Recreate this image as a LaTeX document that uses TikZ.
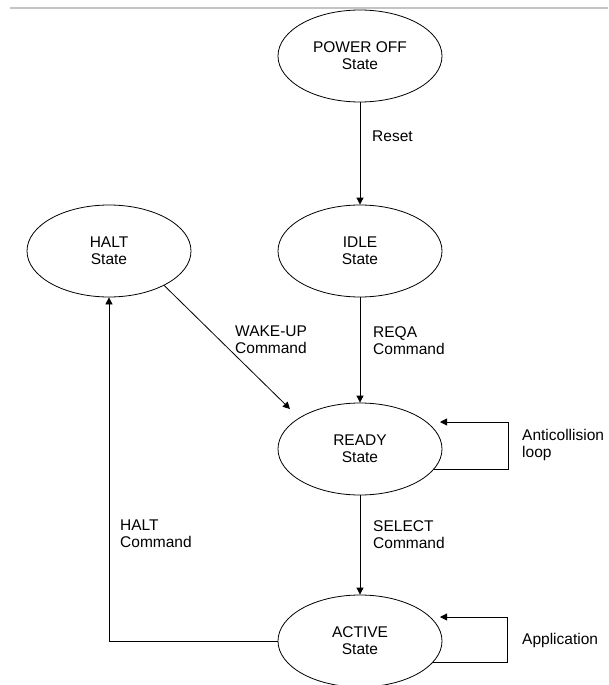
\documentclass[tikz,border=0pt]{standalone}
\usepackage{fontspec}
\setmainfont{Liberation Sans}
\usetikzlibrary{shapes.geometric,arrows.meta}
\begin{document}
\begin{tikzpicture}[x=1pt,y=-1pt,
  txt/.style={font=\fontsize{15.5}{17}\selectfont},
  state/.style={ellipse,draw,line width=0.8pt,minimum width=164pt,minimum height=92pt,
                inner sep=0pt,align=center,txt},
  lbl/.style={anchor=north west,inner sep=0pt,align=left,txt},
  edge/.style={draw,line width=0.8pt,-{Triangle[length=7pt,width=7pt]}}]
\useasboundingbox (0,0) rectangle (608,685);

% thin rule across the top
\draw[line width=1.5pt,color={rgb,255:red,196;green,196;blue,196}] (10,8) -- (608,8);

% states
\node[state] (power)  at (360,56)  {POWER OFF\\State};
\node[state] (halt)   at (109,251) {HALT\\State};
\node[state] (idle)   at (360,251) {IDLE\\State};
\node[state] (ready)  at (360,449) {READY\\State};
\node[state] (active) at (360,641) {ACTIVE\\State};

% free ends of connectors
\coordinate (wakeend) at (290,409);
\coordinate (rloopc)  at (508,422);
\coordinate (rloopt)  at (440,422);
\coordinate (aloopc)  at (507,617);
\coordinate (aloopt)  at (440,617);

% transitions
\draw[edge] (power) -- (idle);
\draw[edge] (idle) -- (ready);
\draw[edge] (ready) -- (active);
\draw[edge] (halt.-32) -- (wakeend);
\draw[edge] (active.west) -| (halt.south);
\draw[edge] (ready.-15) -| (rloopc) -- (rloopt);
\draw[edge] (active.-16) -| (aloopc) -- (aloopt);

% labels
\node[lbl] (lreset)  at (372,131) {Reset};
\node[lbl] (lwake)   at (235,326) {WAKE-UP\\Command};
\node[lbl] (lreqa)   at (373,326) {REQA\\Command};
\node[lbl] (lanti)   at (522,428.7) {Anticollision\\loop};
\node[lbl] (lhalt)   at (120,520) {HALT\\Command};
\node[lbl] (lselect) at (373,520) {SELECT\\Command};
\node[lbl] (lapp)    at (522,632.7) {Application};
\end{tikzpicture}
\end{document}
